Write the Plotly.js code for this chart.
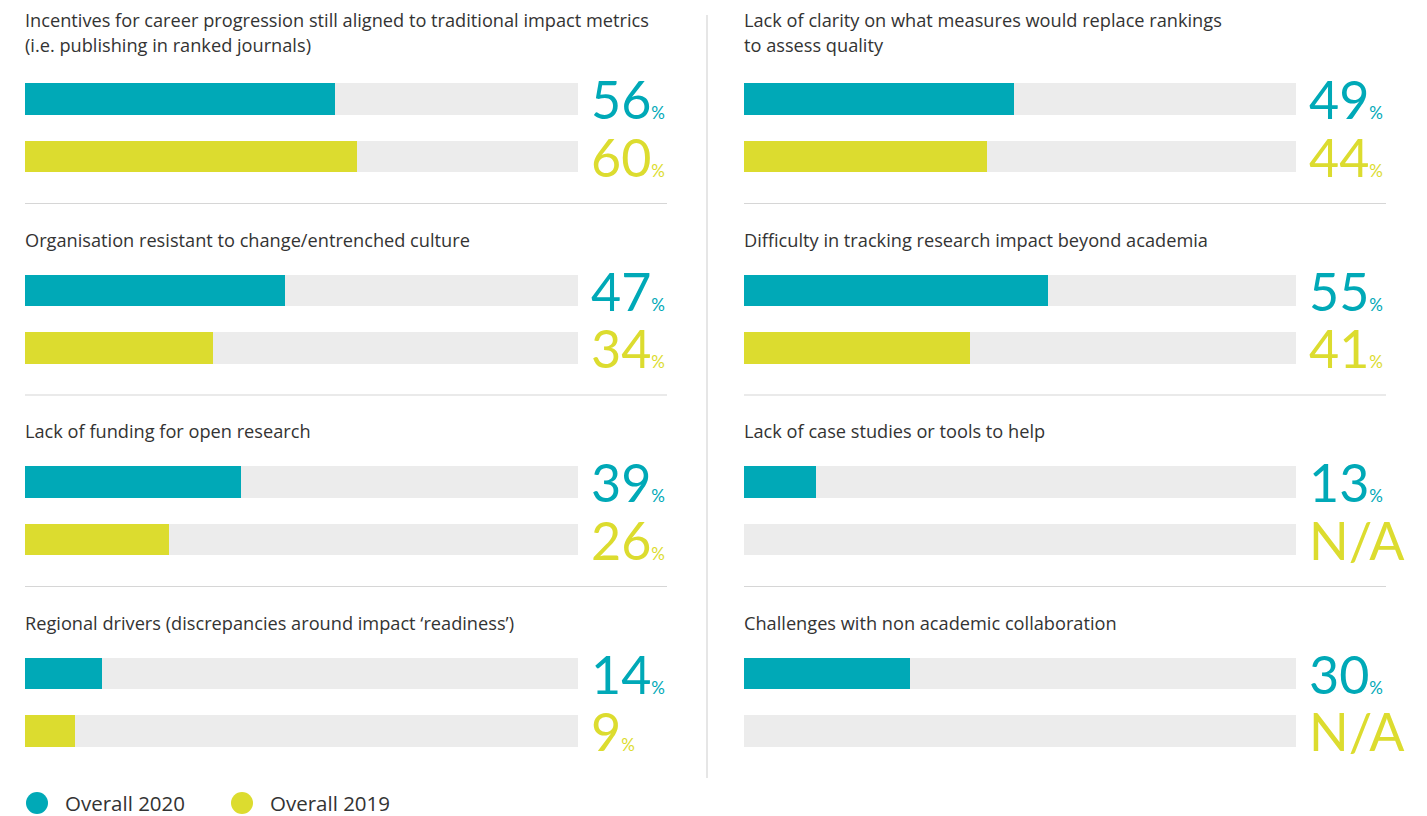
<!DOCTYPE html>
<html>
<head>
<meta charset="utf-8">
<script src="https://cdn.plot.ly/plotly-3.0.1.min.js"></script>
<style>html,body{margin:0;padding:0;background:#fff;}#chart{width:1427px;height:816px;}</style>
</head>
<body>
<div id="chart"></div>
<script>
// ---- data ----
const leftCategories = [
  "Incentives for career progression still aligned to traditional impact metrics<br>(i.e. publishing in ranked journals)",
  "Organisation resistant to change/entrenched culture",
  "Lack of funding for open research",
  "Regional drivers (discrepancies around impact \u2018readiness\u2019)"
];
const left2020 = [56, 47, 39, 14];
const left2019 = [60, 34, 26, 9];

const rightCategories = [
  "Lack of clarity on what measures would replace rankings<br>to assess quality",
  "Difficulty in tracking research impact beyond academia",
  "Lack of case studies or tools to help",
  "Challenges with non academic collaboration"
];
const right2020 = [49, 55, 13, 30];
const right2019 = [44, 41, null, null];

const seriesNames = ["Overall 2020", "Overall 2019"];

// ---- style ----
const W = 1427, H = 816;
const TEAL = "#00a9b7", LIME = "#dcdc2f", TRACK = "#ececec", TXT = "#333333";
const NUMFONT = "Lato, 'Open Sans', sans-serif";
const TXTFONT = "'Open Sans', Lato, sans-serif";
const firstCenter = 99, panelStep = 191.5, seriesStep = 57.5, barThick = 31.5;
const lineStep = 25;

function rowY(panel, s) { return firstCenter + panel * panelStep + s * seriesStep; }

const traces = [];
const annotations = [];
const shapes = [];

function buildColumn(cats, v20, v19, xa, sepX0, sepX1) {
  const ys20 = cats.map((_, i) => rowY(i, 0));
  const ys19 = cats.map((_, i) => rowY(i, 1));
  const allY = ys20.concat(ys19);
  traces.push({type: "bar", orientation: "h", x: allY.map(() => 100), y: allY,
    xaxis: xa, yaxis: "y", width: barThick, marker: {color: TRACK}, hoverinfo: "skip", showlegend: false});
  traces.push({type: "bar", orientation: "h", x: v20, y: ys20, name: seriesNames[0],
    xaxis: xa, yaxis: "y", width: barThick, marker: {color: TEAL}, showlegend: false});
  traces.push({type: "bar", orientation: "h", x: v19.map(v => v === null ? 0 : v), y: ys19, name: seriesNames[1],
    xaxis: xa, yaxis: "y", width: barThick, marker: {color: LIME}, showlegend: false});

  cats.forEach((c, i) => {
    const lines = c.split("<br>");
    lines.forEach((ln, k) => {
      const off = lines.length > 1 ? 54 : 51;
      const yc = rowY(i, 0) - off - (lines.length - 1 - k) * lineStep;
      annotations.push({xref: xa, yref: "y", x: 0, y: yc, xanchor: "left", yanchor: "middle",
        text: ln, showarrow: false, align: "left", font: {family: TXTFONT, size: 18.2, color: TXT}, xshift: -2});
    });
    [[v20[i], TEAL, 0], [v19[i], LIME, 1]].forEach(([v, col, s]) => {
      const t = v === null ? "N/A" : (v + "<span style='font-size:17px'>%</span>");
      annotations.push({xref: xa, yref: "y", x: 100, y: rowY(i, s), xanchor: "left", yanchor: "middle",
        xshift: 11, text: t, showarrow: false,
        font: {family: NUMFONT, size: 52, color: col}});
    });
    if (i < cats.length - 1) {
      const sy = rowY(i, 1) + 47;
      shapes.push({type: "line", xref: "paper", yref: "y", x0: sepX0 / W, x1: sepX1 / W, y0: sy, y1: sy,
        line: {color: "#d6d6d6", width: 1.2}});
    }
  });
}

buildColumn(leftCategories, left2020, left2019, "x", 25, 667);
buildColumn(rightCategories, right2020, right2019, "x2", 744, 1386);

// vertical divider
shapes.push({type: "line", xref: "paper", yref: "y", x0: 707 / W, x1: 707 / W, y0: 15, y1: 778,
  line: {color: "#d6d6d6", width: 1.2}});

// legend
const legendItems = [[seriesNames[0], TEAL, 37], [seriesNames[1], LIME, 242]];
legendItems.forEach(([n, col, cx]) => {
  shapes.push({type: "circle", xref: "paper", yref: "y", x0: (cx - 11) / W, x1: (cx + 11) / W, y0: 792, y1: 814,
    fillcolor: col, line: {width: 0}});
  annotations.push({xref: "paper", yref: "y", x: (cx + 26) / W, y: 803, xanchor: "left", yanchor: "middle",
    text: n, showarrow: false, font: {family: TXTFONT, size: 20.5, color: TXT}});
});

const layout = {
  width: W, height: H, margin: {l: 0, r: 0, t: 0, b: 0},
  paper_bgcolor: "#fff", plot_bgcolor: "#fff",
  barmode: "overlay", bargap: 0,
  showlegend: false,
  xaxis: {domain: [25 / W, 578 / W], range: [0, 100], visible: false, fixedrange: true},
  xaxis2: {domain: [744 / W, 1296 / W], range: [0, 100], visible: false, fixedrange: true, anchor: "y"},
  yaxis: {domain: [0, 1], range: [H, 0], visible: false, fixedrange: true},
  annotations: annotations, shapes: shapes
};

Plotly.newPlot("chart", traces, layout, {displayModeBar: false, staticPlot: true});
</script>
</body>
</html>
